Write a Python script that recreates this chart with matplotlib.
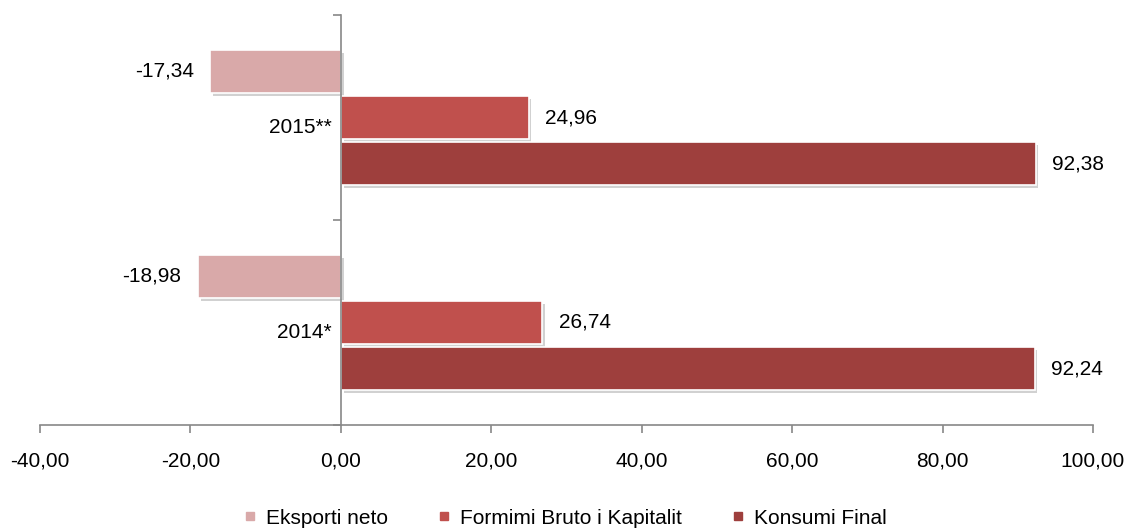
import matplotlib.pyplot as plt
import matplotlib.patheffects as pe
from matplotlib.lines import Line2D
import numpy as np

plt.rcParams['font.family'] = ['Liberation Sans', 'DejaVu Sans']

years = ['2014*', '2015**']
series = ['Eksporti neto', 'Formimi Bruto i Kapitalit', 'Konsumi Final']
eksporti = [-18.98, -17.34]
formimi = [26.74, 24.96]
konsumi = [92.24, 92.38]
colors = ['#D9A9A9', '#C0504D', '#9E3F3D']

fig = plt.figure(figsize=(11.28, 5.29), dpi=100)
ax = fig.add_axes([40/1128, 104/529, 1053/1128, 410/529])

y = np.arange(len(years))
offsets = [0.225, 0.0, -0.225]
h = 0.21
shadow = [pe.SimplePatchShadow(offset=(2, -2), shadow_rgbFace='#999999', alpha=0.45), pe.Normal()]
fs = 15

for vals, off, c, name in zip([eksporti, formimi, konsumi], offsets, colors, series):
    bars = ax.barh(y + off, vals, height=h, color=c, edgecolor='white', linewidth=1.2, label=name)
    for b in bars:
        b.set_path_effects(shadow)
    for yi, v in zip(y + off, vals):
        txt = f'{v:.2f}'.replace('.', ',')
        if v < 0:
            ax.text(v - 2.2, yi, txt, ha='right', va='center', fontsize=fs)
        else:
            ax.text(v + 2.2, yi, txt, ha='left', va='center', fontsize=fs)

for yi, lab in zip(y, years):
    ax.text(-1.2, yi - 0.05, lab, ha='right', va='center', fontsize=fs)

ax.set_xlim(-40, 100)
ax.set_ylim(-0.5, 1.5)
ticks = np.arange(-40, 101, 20)
ax.set_xticks(ticks)
ax.set_xticklabels([f'{t:.2f}'.replace('.', ',') for t in ticks], fontsize=fs)
ax.set_yticks([-0.5, 0.5, 1.5])
ax.set_yticklabels([])
ax.spines['left'].set_position(('data', 0))
ax.spines['top'].set_visible(False)
ax.spines['right'].set_visible(False)
for s in ['left', 'bottom']:
    ax.spines[s].set_color('#888888')
    ax.spines[s].set_linewidth(1.2)
ax.tick_params(axis='both', colors='#888888', length=6, width=1.2, labelcolor='black')
ax.tick_params(axis='x', pad=13)

handles = [Line2D([], [], marker='s', linestyle='none', color=c, markersize=6) for c in colors]
fig.legend(handles, series, loc='center', bbox_to_anchor=(0.5, 1 - 518/529), ncol=3,
           frameon=False, fontsize=fs, handlelength=0.8, handletextpad=0.37, columnspacing=2.3,
           borderpad=0.1)

fig.savefig('out.png', dpi=100)
